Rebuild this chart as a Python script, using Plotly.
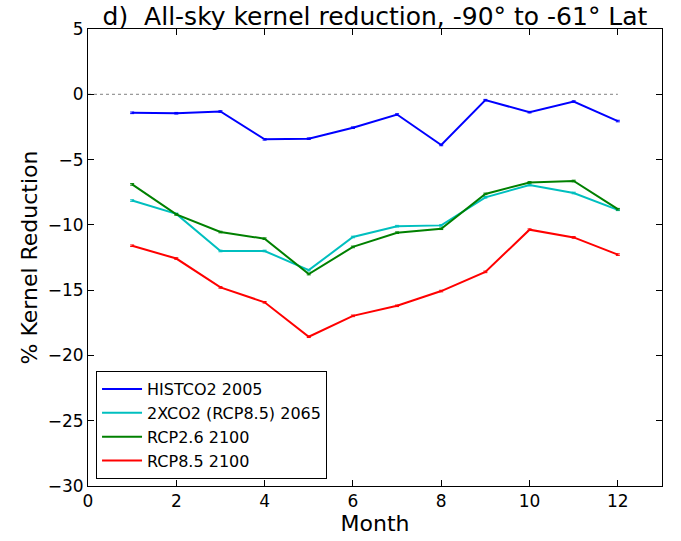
import plotly.graph_objects as go

months = list(range(1, 13))
histco2_2005 = [-1.42, -1.45, -1.32, -3.45, -3.40, -2.56, -1.55, -3.88, -0.45, -1.37, -0.56, -2.05]
x2co2_2065 = [-8.14, -9.16, -12.0, -12.0, -13.47, -10.93, -10.1, -10.04, -7.89, -6.95, -7.56, -8.85]
rcp26_2100 = [-6.9, -9.2, -10.55, -11.06, -13.77, -11.69, -10.6, -10.3, -7.63, -6.75, -6.64, -8.8]
rcp85_2100 = [-11.6, -12.58, -14.79, -15.93, -18.57, -16.97, -16.2, -15.07, -13.6, -10.37, -10.96, -12.28]
err = [0.06] * 12

series = [
    ("HISTCO2 2005", histco2_2005, "#0000ff"),
    ("2XCO2 (RCP8.5) 2065", x2co2_2065, "#00bfbf"),
    ("RCP2.6 2100", rcp26_2100, "#008000"),
    ("RCP8.5 2100", rcp85_2100, "#ff0000"),
]

fig = go.Figure()
fig.add_trace(go.Scatter(x=[0, 12], y=[0, 0], mode="lines",
                         line=dict(color="gray", width=1, dash="dot"),
                         showlegend=False, hoverinfo="skip"))
for name, vals, col in series:
    fig.add_trace(go.Scatter(x=months, y=vals, mode="lines", name=name,
                             line=dict(color=col, width=2),
                             error_y=dict(type="data", array=err, color=col,
                                          thickness=1, width=2)))

axis_common = dict(showgrid=False, zeroline=False, showline=True, linecolor="black",
                   linewidth=1, mirror="ticks", ticks="inside", ticklen=6,
                   tickcolor="black", tickfont=dict(size=17, color="black"))
fig.update_layout(
    width=681, height=541,
    margin=dict(l=88, r=19, t=29, b=52),
    paper_bgcolor="white", plot_bgcolor="white",
    font=dict(family="DejaVu Sans", color="black"),
    title=dict(text="d)  All-sky kernel reduction, -90° to -61° Lat",
               x=(88 + 574 / 2) / 681, xanchor="center",
               y=1 - 25 / 541, yanchor="bottom", font=dict(size=25)),
    xaxis=dict(range=[0, 13], tickvals=[0, 2, 4, 6, 8, 10, 12],
               title=dict(text="Month", font=dict(size=22), standoff=2), **axis_common),
    yaxis=dict(range=[-30, 5], tickvals=[-30, -25, -20, -15, -10, -5, 0, 5],
               title=dict(text="% Kernel Reduction", font=dict(size=22), standoff=4), **axis_common),
    legend=dict(x=0.014, y=0.015, xanchor="left", yanchor="bottom",
                bordercolor="black", borderwidth=1, bgcolor="white",
                font=dict(size=16), tracegroupgap=0, itemwidth=40),
)
fig.write_html("out.html")
